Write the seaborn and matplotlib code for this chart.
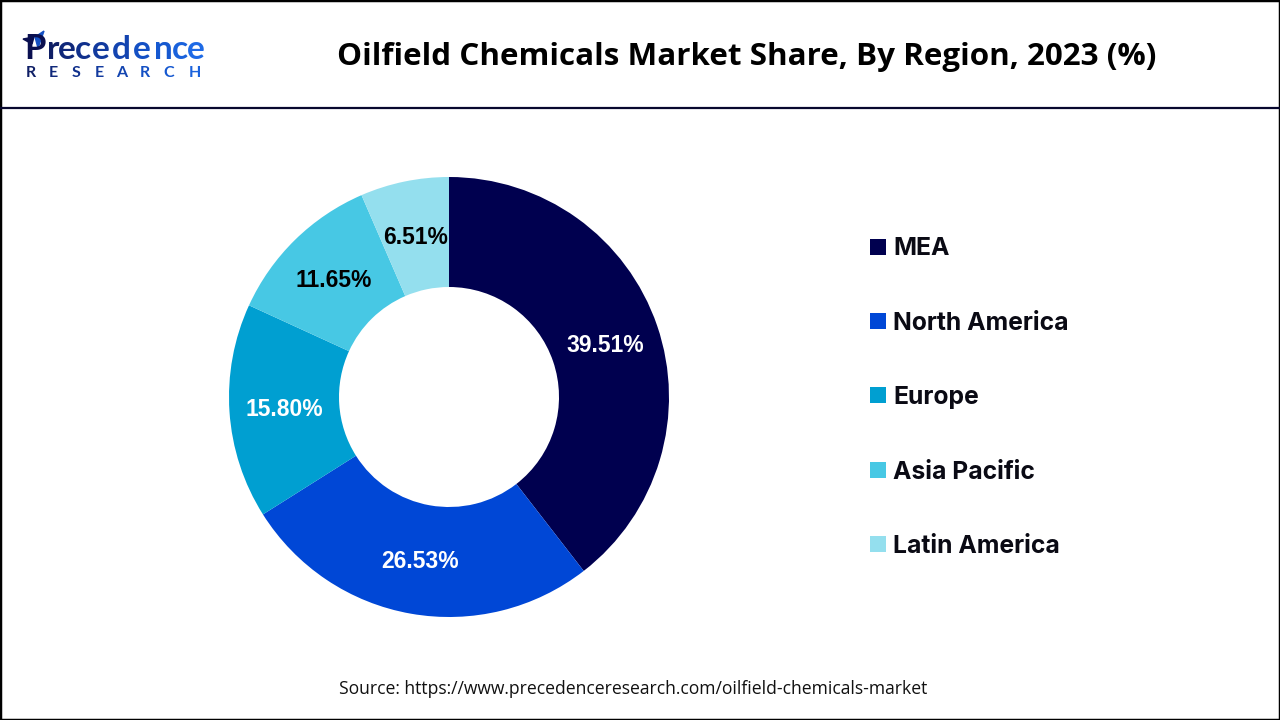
import matplotlib
matplotlib.use("Agg")

import matplotlib.pyplot as plt
import seaborn as sns
from matplotlib.lines import Line2D
from matplotlib.patches import Polygon

regions = ["MEA", "North America", "Europe", "Asia Pacific", "Latin America"]
shares = [39.51, 26.53, 15.80, 11.65, 6.51]
colors = ["#00004f", "#0047d6", "#009fd1", "#47c8e4", "#94dfee"]
label_colors = ["white", "white", "white", "black", "black"]

logo_letters = list("recedence")
logo_x = [47, 58, 75, 92, 112, 133, 154, 172, 187]
logo_sub = list("RESEARCH")
logo_sub_x = [26, 49, 72, 95, 116, 140, 163, 189]
logo_colors = ["#0f1f66", "#10287a", "#10308c", "#123a9e", "#1344b0", "#1450c4", "#1558d0", "#1a62dc", "#1e6ae6"]


def draw_logo(fig):
    fig.text(24 / 1280, 1 - 59 / 720, "P", fontsize=25, color="#0a0f50", family="Lato", fontweight="bold")
    for ch, x, c in zip(logo_letters, logo_x, logo_colors):
        fig.text(x / 1280, 1 - 59 / 720, ch, fontsize=24, color=c, family="Lato", fontweight="bold")
    for ch, x, c in zip(logo_sub, logo_sub_x, logo_colors):
        fig.text(x / 1280, 1 - 77 / 720, ch, fontsize=11.5, color=c, family="Lato", fontweight="bold")
    # little wing on the P
    fig.add_artist(Polygon([(23 / 1280, 1 - 39 / 720), (34 / 1280, 1 - 37 / 720), (32 / 1280, 1 - 44 / 720)],
                           closed=True, color="#0a0f50", transform=fig.transFigure))
    fig.add_artist(Polygon([(35 / 1280, 1 - 37 / 720), (44 / 1280, 1 - 31 / 720), (38 / 1280, 1 - 48 / 720)],
                           closed=True, color="#1450c4", transform=fig.transFigure))


def create_chart():
    sns.set_theme(style="white")
    fig = plt.figure(figsize=(12.8, 7.2), dpi=100, facecolor="white")

    # Frame and header line
    fig.add_artist(plt.Rectangle((0, 0), 1, 1, fill=False, ec="black", lw=2.5, transform=fig.transFigure))
    fig.add_artist(Line2D([0, 1], [1 - 107.5 / 720] * 2, color="#07072e", lw=1.6))

    draw_logo(fig)
    fig.text(747 / 1280, 1 - 57 / 720, "Oilfield Chemicals Market Share, By Region, 2023 (%)",
             fontsize=22.6, fontweight="bold", family="Open Sans", color="black", ha="center", va="center")

    # Donut chart
    ax = fig.add_axes([229 / 1280, 103 / 720, 440 / 1280, 440 / 720])
    wedges, _, autotexts = ax.pie(shares, colors=sns.color_palette(colors), startangle=90, counterclock=False,
                                  radius=1, pctdistance=0.75, autopct="%.2f%%",
                                  wedgeprops={"width": 0.5, "linewidth": 0},
                                  textprops={"fontsize": 16.5, "fontweight": "bold", "family": "Liberation Sans"})
    for t, c in zip(autotexts, label_colors):
        t.set_color(c)
        x, y = t.get_position()
        t.set_position((x, y - 0.008))  # sit a bit lower, like the original
    ax.set_xlim(-1, 1)
    ax.set_ylim(-1, 1)

    fig.legend(wedges, regions, loc="upper left", bbox_to_anchor=(848 / 1280, 1 - 215 / 720), frameon=False,
               prop={"family": "Inter", "weight": "bold", "size": 17.8}, labelcolor="#0a0a14",
               labelspacing=2.08, handlelength=0.62, handleheight=0.62, handletextpad=0.32)

    fig.text(633 / 1280, 1 - 689 / 720, "Source: https://www.precedenceresearch.com/oilfield-chemicals-market",
             fontsize=12.65, family="Open Sans", color="#111111", ha="center", va="center")

    plt.savefig("out.png", dpi=100)
    plt.close()


create_chart()
